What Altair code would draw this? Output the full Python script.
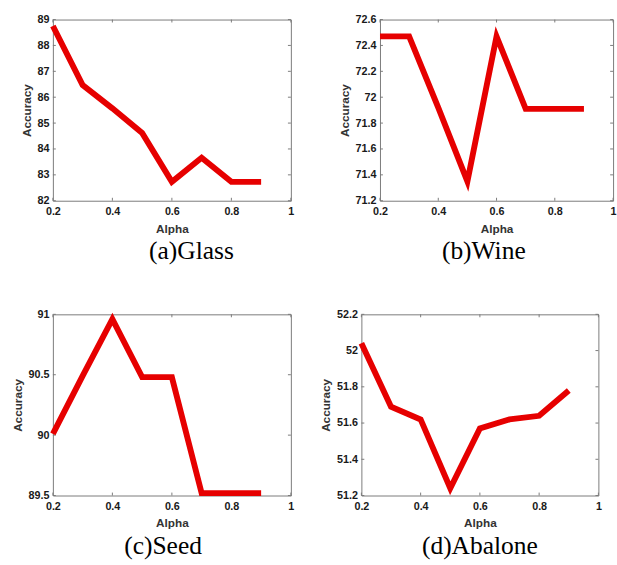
import altair as alt
import pandas as pd

alpha = [0.2, 0.3, 0.4, 0.5, 0.6, 0.7, 0.8, 0.9]
x_ticks = [0.2, 0.4, 0.6, 0.8, 1.0]

glass = [88.75, 86.47, 85.57, 84.62, 82.73, 83.66, 82.73, 82.73]
wine = [72.47, 72.47, 71.92, 71.35, 72.47, 71.91, 71.91, 71.91]
seed = [90.01, 90.49, 90.96, 90.48, 90.48, 89.52, 89.52, 89.52]
abalone = [52.04, 51.69, 51.62, 51.24, 51.57, 51.62, 51.64, 51.78]

glass_ticks = [82, 83, 84, 85, 86, 87, 88, 89]
wine_ticks = [71.2, 71.4, 71.6, 71.8, 72.0, 72.2, 72.4, 72.6]
seed_ticks = [89.5, 90.0, 90.5, 91.0]
abalone_ticks = [51.2, 51.4, 51.6, 51.8, 52.0, 52.2]

captions = ["(a)Glass", "(b)Wine", "(c)Seed", "(d)Abalone"]

RED = "#e60000"
BOX = "#7a7a7a"
TICK = 3
H = 185


def panel(ys, yticks, caption, w, h, dx):
    df = pd.DataFrame({"Alpha": alpha, "Accuracy": ys})
    xs = alt.Scale(domain=[0.2, 1.0], nice=False, zero=False)
    ysc = alt.Scale(domain=[yticks[0], yticks[-1]], nice=False, zero=False)
    xax = alt.Axis(values=x_ticks, format="~g", title="Alpha", labelFlush=False)
    yax = alt.Axis(values=yticks, format="~g", title="Accuracy", labelFlush=False)
    line = alt.Chart(df).mark_line(color=RED, strokeWidth=6, strokeCap="butt").encode(
        x=alt.X("Alpha:Q", scale=xs, axis=xax),
        y=alt.Y("Accuracy:Q", scale=ysc, axis=yax),
    )
    xt = pd.DataFrame({"Alpha": x_ticks})
    yt = pd.DataFrame({"Accuracy": yticks})
    bt = alt.Chart(xt).mark_rule(color=BOX, strokeWidth=1).encode(
        x=alt.X("Alpha:Q", scale=xs, axis=xax), y=alt.value(h), y2=alt.value(h - TICK))
    tt = alt.Chart(xt).mark_rule(color=BOX, strokeWidth=1).encode(
        x=alt.X("Alpha:Q", scale=xs, axis=xax), y=alt.value(0), y2=alt.value(TICK))
    lt = alt.Chart(yt).mark_rule(color=BOX, strokeWidth=1).encode(
        y=alt.Y("Accuracy:Q", scale=ysc, axis=yax), x=alt.value(0), x2=alt.value(TICK))
    rt = alt.Chart(yt).mark_rule(color=BOX, strokeWidth=1).encode(
        y=alt.Y("Accuracy:Q", scale=ysc, axis=yax), x=alt.value(w), x2=alt.value(w - TICK))
    return alt.layer(bt, tt, lt, rt, line).properties(
        width=w, height=h,
        title=alt.TitleParams(caption, orient="bottom", anchor="middle", frame="group",
                              dx=dx, offset=5, font="Liberation Serif", fontSize=26,
                              fontWeight="normal", color="#000000"),
    )


pa = panel(glass, glass_ticks, captions[0], 243, H, 20)
pb = panel(wine, wine_ticks, captions[1], 238, H, -13)
pc = panel(seed, seed_ticks, captions[2], 243, H, -9)
pd_ = panel(abalone, abalone_ticks, captions[3], 242, H, 0)

row1 = alt.hconcat(pa, pb, spacing=91, bounds="flush")
row2 = alt.hconcat(pc, pd_, spacing=72, bounds="flush")

chart = alt.vconcat(row1, row2, spacing=H + 116, bounds="flush").properties(
    padding={"left": 11, "top": 7, "right": 0, "bottom": 0},
    background="white",
).configure_view(
    stroke=BOX, strokeWidth=1
).configure_axis(
    domain=False, ticks=False, grid=False,
    labelFont="Liberation Sans", labelFontWeight="bold", labelFontSize=11,
    labelColor="#1a1a1a", labelPadding=4,
    titleFont="Liberation Sans", titleFontWeight="bold", titleFontSize=12,
    titleColor="#333333", titlePadding=4,
).configure_axisX(
    labelPadding=5, titlePadding=7,
)

chart.save("out.html", embed_options={"renderer": "svg", "actions": False})
